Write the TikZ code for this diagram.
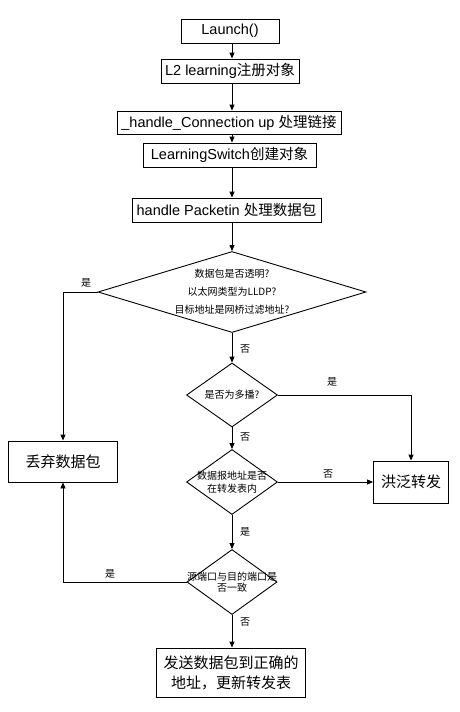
\documentclass[tikz,border=0pt]{standalone}
\usepackage{fontspec}
\setmainfont{Liberation Sans}
\newfontfamily\cjk{Noto Sans CJK SC}
\usetikzlibrary{arrows.meta,shapes.geometric}
\begin{document}
\begin{tikzpicture}[x=1pt,y=-1pt,
  box/.style={draw=black,line width=0.9pt,inner sep=0pt,font=\fontsize{14.5}{17}\selectfont},
  bigbox/.style={draw=black,line width=0.9pt,inner sep=0pt,align=center,font=\cjk\fontsize{15}{20}\selectfont},
  dia/.style={draw=black,line width=0.9pt,diamond,inner sep=0pt},
  dtext/.style={align=center,inner sep=0pt,font=\cjk\fontsize{10}{13}\selectfont},
  lab/.style={font=\cjk\fontsize{10}{12}\selectfont,inner sep=0pt},
  arr/.style={draw=black,line width=0.9pt,-{Triangle[length=6pt,width=5pt]}},
  ln/.style={draw=black,line width=0.9pt}]
\useasboundingbox (0,0) rectangle (459,712);
\fill[white] (0,0) rectangle (459,712);
\node[box,minimum width=98pt,minimum height=24pt] (launch) at (230,31) {Launch()};
\node[box,minimum width=138pt,minimum height=24pt] (l2) at (230,71) {L2 learning{\cjk 注册对象}};
\node[box,minimum width=224pt,minimum height=23pt] (conn) at (229,122.5) {\_handle\_Connection up {\cjk 处理链接}};
\node[box,minimum width=173pt,minimum height=24pt] (ls) at (229.5,155) {LearningSwitch{\cjk 创建对象}};
\node[box,minimum width=189pt,minimum height=24pt] (pkt) at (226.5,210) {handle Packetin {\cjk 处理数据包}};
\coordinate (c1) at (232,0);
% diamonds
\node[dia,minimum width=268pt,minimum height=81pt] (d1) at (232,292) {};
\node[dtext,font=\cjk\fontsize{10}{18}\selectfont] (d1t) at (d1) {数据包是否透明?\\以太网类型为LLDP?\\目标地址是网桥过滤地址?};
\node[dia,minimum width=91pt,minimum height=64pt] (d2) at (232,395) {};
\node[dtext] (d2t) at (d2) {是否为多播?};
\node[dia,minimum width=91pt,minimum height=65pt] (d3) at (232,482) {};
\node[dtext] (d3t) at (d3) {数据报地址是否\\在转发表内};
\node[dia,minimum width=90pt,minimum height=65pt] (d4) at (232,582) {};
\node[dtext,font=\cjk\fontsize{10}{11.5}\selectfont] (d4t) at (d4) {源端口与目的端口是\\否一致};
% side boxes
\node[bigbox,minimum width=109pt,minimum height=41pt] (drop) at (63,461.5) {丢弃数据包};
\node[bigbox,minimum width=75pt,minimum height=42pt] (flood) at (411,482) {洪泛转发};
\node[bigbox,minimum width=149pt,minimum height=49pt] (send) at (231,672.5) {发送数据包到正确的\\地址，更新转发表};
% connectors
\draw[arr] (launch.south -| c1) -- (l2.north -| c1);
\draw[arr] (l2.south -| c1) -- (conn.north -| c1);
\draw[arr] (conn.south -| c1) -- (ls.north -| c1);
\draw[arr] (ls.south -| c1) -- (pkt.north -| c1);
\draw[arr] (pkt.south -| c1) -- (d1.north);
\draw[arr] (d1.south) -- (d2.north);
\draw[arr] (d2.south) -- (d3.north);
\draw[arr] (d3.south) -- (d4.north);
\draw[arr] (d4.south) -- (send.north -| d4);
\draw[arr] (d1.west) -| (drop.north);
\draw[arr] (d4.west) -| (drop.south);
\draw[arr] (d2.east) -| (flood.north);
\draw[arr] (d3.east) -- (flood.west);
% labels
\node[lab] (y1) at (86,283) {是};
\node[lab] (n1) at (245,349) {否};
\node[lab] (y2) at (332,382) {是};
\node[lab] (n2) at (245,437) {否};
\node[lab] (n3) at (328,474) {否};
\node[lab] (y3) at (245,532) {是};
\node[lab] (y4) at (110,574) {是};
\node[lab] (n4) at (245,622) {否};
\end{tikzpicture}
\end{document}
